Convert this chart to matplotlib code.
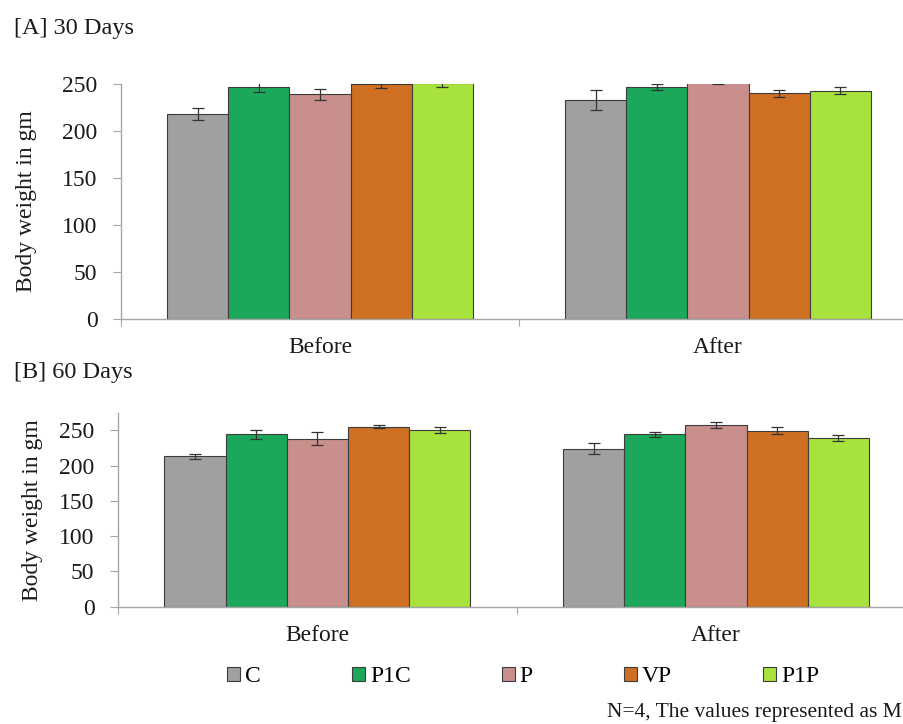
import numpy as np
import matplotlib
matplotlib.use("Agg")
from matplotlib import pyplot as plt

plt.rcParams['font.family'] = ['Liberation Serif', 'DejaVu Serif']

# groups and periods
groups = ["C", "P1C", "P", "VP", "P1P"]
periods = ["Before", "After"]
colors = ["#a0a0a0", "#1ba85a", "#c88f8d", "#cf6f22", "#a8e23c"]

# [A] 30 days, rows = groups, cols = Before / After
a_mean = [[218, 233], [247, 247], [239, 255], [250, 240], [251, 243]]
a_err = [[6, 11], [5.5, 3.5], [6, 5], [4.5, 3.5], [4.5, 4]]

# [B] 60 days
b_mean = [[213, 224], [244, 244], [238, 257], [255, 249], [250, 239]]
b_err = [[4, 8], [6, 4], [9, 4.5], [2.5, 5], [4.5, 4]]

W, H = 904, 724
fig = plt.figure(figsize=(W / 100, H / 100), dpi=100)

spine_col = "#a6a6a6"
bar_w = 0.1535
fs = 17


def panel(rect, means, errs, ytop, title, title_y, ylab_x):
    ax = fig.add_axes(rect)
    x = np.arange(len(periods)) + 0.5
    for i, g in enumerate(groups):
        ax.bar(x + (i - 2) * bar_w, means[i], bar_w, yerr=errs[i],
               color=colors[i], edgecolor="#3c3c3c", linewidth=0.8,
               label=g, capsize=4,
               error_kw=dict(ecolor="#333333", elinewidth=0.9, capthick=0.9))
    ax.set_xlim(0, 2)
    ax.set_ylim(0, ytop)
    ax.set_yticks(np.arange(0, 251, 50))
    # category boundaries get the tick marks, names sit in between
    ax.set_xticks([0, 1, 2])
    ax.set_xticklabels([])
    ax.set_xticks(x, minor=True)
    ax.set_xticklabels(periods, minor=True)
    ax.tick_params(axis="x", which="major", direction="out", length=5,
                   color=spine_col, width=0.8)
    ax.tick_params(axis="x", which="minor", length=0, pad=13, labelsize=fs,
                   labelcolor="#1a1a1a")
    ax.tick_params(axis="y", direction="out", length=6, color=spine_col,
                   width=0.8, pad=11, labelsize=fs, labelcolor="#1a1a1a")
    for s in ["top", "right"]:
        ax.spines[s].set_visible(False)
    for s in ["left", "bottom"]:
        ax.spines[s].set_color(spine_col)
        ax.spines[s].set_linewidth(1.0)
    ax.set_ylabel("Body weight in gm", fontsize=fs, color="#1a1a1a")
    ax.yaxis.set_label_coords(ylab_x, 0.5)
    fig.text(14 / W, title_y, title, fontsize=fs + 0.5, color="#1a1a1a",
             va="baseline", ha="left")
    return ax


axA = panel([121 / W, 1 - 319 / H, 796 / W, 235 / H], a_mean, a_err, 250,
            "[A] 30 Days", 1 - 34 / H, -0.106)
axB = panel([118 / W, 1 - 606.7 / H, 797.4 / W, 193.4 / H], b_mean, b_err, 274,
            "[B] 60 Days", 1 - 378 / H, -0.094)

handles, labels = axB.get_legend_handles_labels()
fig.legend(handles, labels, loc="center left",
           bbox_to_anchor=(227 / W, 1 - 677 / H), ncol=5, frameon=False,
           fontsize=fs, handlelength=0.55, handleheight=0.55,
           handletextpad=0.22, columnspacing=3.85, borderpad=0,
           borderaxespad=0)

# footnote is cut at the right edge in the source picture
fig.text(607 / W, 1 - 712 / H, "N=4, The values represented as M",
         fontsize=15.5, color="#1a1a1a", va="center", ha="left")

fig.savefig("out.png", dpi=100)
